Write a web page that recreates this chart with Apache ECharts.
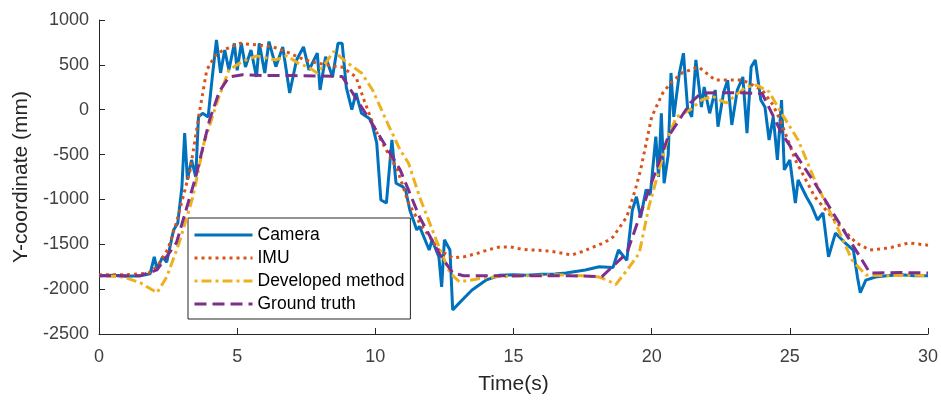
<!DOCTYPE html>
<html>
<head>
<meta charset="utf-8">
<script src="https://cdn.jsdelivr.net/npm/echarts@6/dist/echarts.min.js"></script>
<style>html,body{margin:0;padding:0;background:#fff;}#chart{width:941px;height:400px;}</style>
</head>
<body>
<div id="chart"></div>
<script>
const xTicks = [0, 5, 10, 15, 20, 25, 30];
const yTicks = [-2500, -2000, -1500, -1000, -500, 0, 500, 1000];
const seriesNames = ['Camera', 'IMU', 'Developed method', 'Ground truth'];

const cameraData = [[0,-1850],[0.5,-1845],[1,-1855],[1.5,-1850],[1.85,-1830],[2.0,-1640],[2.1,-1780],[2.3,-1640],[2.45,-1700],[2.7,-1340],[2.85,-1265],[3.0,-860],[3.1,-260],[3.2,-780],[3.35,-560],[3.5,-750],[3.6,-80],[3.75,-40],[3.95,-80],[4.1,365],[4.25,777],[4.4,410],[4.55,666],[4.7,443],[4.9,740],[5.0,440],[5.15,740],[5.3,477],[5.5,666],[5.7,365],[5.8,740],[6.0,410],[6.15,760],[6.4,480],[6.65,700],[6.9,186],[7.15,555],[7.4,700],[7.6,443],[7.9,630],[8.0,220],[8.2,590],[8.45,365],[8.65,740],[8.8,740],[8.95,250],[9.15,0],[9.3,186],[9.5,-40],[9.7,-80],[9.85,-115],[10.05,-370],[10.2,-1006],[10.4,-1040],[10.6,-337],[10.75,-820],[11.0,-860],[11.1,-900],[11.25,-1120],[11.5,-1340],[11.6,-1300],[11.95,-1564],[12.05,-1450],[12.3,-1640],[12.4,-1975],[12.5,-1450],[12.7,-1564],[12.8,-2232],[13.05,-2150],[13.5,-2010],[14.0,-1900],[14.5,-1845],[15,-1840],[15.5,-1845],[16,-1835],[16.5,-1830],[16.9,-1820],[17.6,-1786],[18.1,-1750],[18.6,-1760],[18.8,-1564],[19.1,-1680],[19.3,-1120],[19.45,-970],[19.6,-1200],[19.8,-890],[19.95,-950],[20.15,-300],[20.25,-750],[20.35,-40],[20.45,-820],[20.6,-500],[20.7,410],[20.8,-80],[21.0,400],[21.15,630],[21.3,20],[21.45,-80],[21.6,555],[21.8,30],[21.9,253],[22.1,-40],[22.3,220],[22.4,-190],[22.6,186],[22.75,330],[22.9,-170],[23.1,220],[23.3,365],[23.45,-260],[23.6,477],[23.75,555],[23.95,108],[24.1,30],[24.25,-337],[24.4,-80],[24.55,-560],[24.7,108],[24.8,-670],[25.0,-560],[25.2,-1040],[25.3,-783],[25.6,-970],[25.8,-1080],[26.0,-1229],[26.2,-1150],[26.4,-1640],[26.65,-1375],[27.0,-1485],[27.3,-1564],[27.45,-1870],[27.55,-2040],[27.75,-1900],[28.1,-1865],[28.5,-1850],[29,-1840],[29.5,-1850],[30,-1850]];

const imuData = [[0,-1840],[1,-1840],[1.8,-1820],[2.1,-1750],[2.5,-1550],[2.8,-1260],[3.3,-670],[3.65,0],[3.9,443],[4.2,600],[4.5,666],[5.1,740],[5.8,720],[6.3,700],[6.9,630],[7.4,560],[7.9,520],[8.4,490],[8.8,475],[9.3,365],[9.6,100],[10.0,-225],[10.4,-450],[10.8,-670],[11.2,-1040],[11.6,-1260],[12.3,-1564],[12.8,-1650],[13.2,-1640],[13.7,-1600],[14.1,-1560],[14.5,-1530],[14.9,-1530],[15.3,-1555],[15.7,-1564],[16.1,-1570],[16.5,-1585],[17.1,-1620],[17.5,-1580],[17.9,-1530],[18.3,-1480],[18.6,-1420],[19.1,-1195],[19.4,-900],[19.6,-670],[20.0,-80],[20.4,186],[20.7,300],[21.1,410],[21.7,477],[22.3,330],[22.8,330],[23.3,330],[24.0,220],[24.4,50],[24.7,-150],[25.2,-560],[25.9,-970],[26.7,-1260],[27.4,-1485],[27.9,-1564],[28.6,-1540],[29.3,-1485],[30,-1510]];

const developedData = [[0,-1850],[0.9,-1865],[1.5,-1930],[2.1,-2040],[2.45,-1865],[2.9,-1485],[3.4,-970],[3.8,-370],[4.3,108],[4.7,443],[5.2,540],[5.7,600],[6.4,555],[6.8,600],[7.2,520],[7.6,470],[7.9,410],[8.2,520],[8.5,650],[9.0,520],[9.5,410],[9.9,220],[10.5,-190],[10.9,-450],[11.2,-595],[11.6,-970],[12.2,-1450],[12.7,-1820],[13.05,-1920],[13.9,-1875],[14.5,-1860],[15.5,-1850],[16.5,-1840],[17.5,-1850],[18.1,-1865],[18.4,-1900],[18.7,-1950],[19.2,-1750],[19.55,-1600],[19.9,-1080],[20.4,-530],[20.6,-300],[20.9,-80],[21.4,0],[21.8,108],[22.2,150],[22.7,75],[23.0,150],[23.4,250],[23.8,275],[24.25,200],[24.7,-40],[25.3,-337],[25.9,-783],[26.7,-1300],[27.25,-1675],[27.75,-1842],[28.5,-1850],[29.3,-1845],[30,-1850]];

const groundTruthData = [[0,-1850],[1.5,-1850],[2.1,-1786],[2.8,-1485],[3.5,-750],[4.0,-115],[4.35,200],[4.7,365],[5.2,390],[6,380],[7,380],[8,375],[8.8,370],[9.8,-115],[10.9,-670],[11.6,-1195],[12.3,-1597],[12.8,-1820],[13.2,-1850],[15,-1850],[17,-1850],[18.2,-1860],[19.1,-1600],[19.9,-895],[20.6,-300],[21.4,75],[21.8,186],[23,190],[24.0,180],[24.7,-260],[25.9,-817],[27.1,-1420],[27.9,-1820],[29,-1815],[30,-1820]];

const colors = ['#0072BD', '#D95319', '#EDB120', '#7E2F8E'];
const dataSets = [cameraData, imuData, developedData, groundTruthData];
const dashes = ['solid', [3, 4], [3, 4, 10, 4], [12, 6]];

const chart = echarts.init(document.getElementById('chart'), null, {renderer: 'canvas'});
const font = 'Arial, "Liberation Sans", Helvetica, sans-serif';
chart.setOption({
  animation: false,
  backgroundColor: '#fff',
  textStyle: {fontFamily: font},
  grid: {left: 99, right: 12, top: 20, bottom: 66},
  legend: {
    orient: 'vertical', left: 188, top: 218,
    padding: [8, 6, 6, 5], itemGap: 5, itemWidth: 58, itemHeight: 14,
    backgroundColor: '#fff', borderColor: '#262626', borderWidth: 1,
    itemStyle: {opacity: 0},
    lineStyle: {width: 3},
    textStyle: {fontSize: 17.5, color: '#000', fontFamily: font},
    data: seriesNames
  },
  xAxis: {
    type: 'value', min: xTicks[0], max: xTicks[xTicks.length - 1], interval: 5,
    name: 'Time(s)', nameLocation: 'middle', nameGap: 40,
    nameTextStyle: {fontSize: 21, color: '#262626', fontFamily: font},
    axisLine: {onZero: false, lineStyle: {color: '#262626', width: 1}},
    axisTick: {inside: true, length: 6, lineStyle: {color: '#262626'}},
    axisLabel: {fontSize: 18, color: '#404040', margin: 14, fontFamily: font},
    splitLine: {show: false}
  },
  yAxis: {
    type: 'value', min: yTicks[0], max: yTicks[yTicks.length - 1], interval: 500,
    name: 'Y-coordinate (mm)', nameLocation: 'middle', nameGap: 67,
    nameTextStyle: {fontSize: 21, color: '#262626', fontFamily: font},
    axisLine: {show: true, onZero: false, lineStyle: {color: '#262626', width: 1}},
    axisTick: {show: true, inside: true, length: 6, lineStyle: {color: '#262626'}},
    axisLabel: {fontSize: 18, color: '#404040', margin: 10, fontFamily: font, formatter: v => String(v)},
    splitLine: {show: false}
  },
  series: seriesNames.map((n, i) => ({
    name: n, type: 'line', data: dataSets[i], showSymbol: false, symbol: 'none',
    color: colors[i],
    lineStyle: {color: colors[i], width: 3, type: dashes[i]},
    z: 2 + i
  }))
});
</script>
</body>
</html>
